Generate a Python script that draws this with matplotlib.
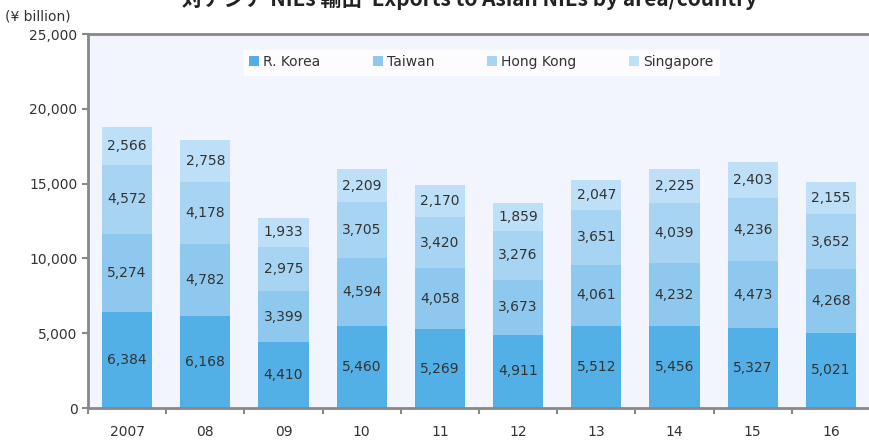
import numpy as np
import matplotlib
matplotlib.use("Agg")
import matplotlib.pyplot as plt
from matplotlib.ticker import FuncFormatter

plt.rcParams['font.family'] = ['DejaVu Sans', 'Noto Sans CJK JP']

years = ["2007", "08", "09", "10", "11", "12", "13", "14", "15", "16"]
korea = [6384, 6168, 4410, 5460, 5269, 4911, 5512, 5456, 5327, 5021]
taiwan = [5274, 4782, 3399, 4594, 4058, 3673, 4061, 4232, 4473, 4268]
hongkong = [4572, 4178, 2975, 3705, 3420, 3276, 3651, 4039, 4236, 3652]
singapore = [2566, 2758, 1933, 2209, 2170, 1859, 2047, 2225, 2403, 2155]

series = [("R. Korea", korea, "#52b0e6"),
          ("Taiwan", taiwan, "#8ec8ef"),
          ("Hong Kong", hongkong, "#a7d4f3"),
          ("Singapore", singapore, "#bddff7")]

fig = plt.figure(figsize=(8.7, 4.44), dpi=100)
ax = fig.add_axes([88 / 870, 1 - 408 / 444, 782 / 870, 374 / 444])
ax.set_facecolor("#f2f5fd")

x = np.arange(len(years))
bottom = np.zeros(len(years))
for name, vals, col in series:
    vals = np.array(vals)
    ax.bar(x, vals, width=0.64, bottom=bottom, color=col, label=name, zorder=2)
    for xi, b, v in zip(x, bottom, vals):
        ax.text(xi, b + v / 2, f"{v:,}", ha="center", va="center",
                fontsize=10, color="#333333", zorder=3)
    bottom += vals

ax.set_xlim(-0.5, len(years) - 0.5)
ax.set_ylim(0, 25000)
ax.set_yticks(range(0, 25001, 5000))
ax.yaxis.set_major_formatter(FuncFormatter(lambda v, p: f"{int(v):,}"))
ax.set_xticks(x)
ax.set_xticklabels(years)
ax.set_xticks(np.arange(-0.5, len(years), 1), minor=True)
ax.tick_params(axis="x", which="major", length=0, pad=12, labelsize=10, colors="#333333")
ax.tick_params(axis="x", which="minor", length=4, color="#888888", width=1.5)
ax.tick_params(axis="y", length=4, color="#888888", width=1.5, labelsize=10, labelcolor="#333333")

for s in ["left", "bottom", "top"]:
    ax.spines[s].set_color("#888888")
    ax.spines[s].set_linewidth(2)
ax.spines["right"].set_visible(False)

leg = ax.legend(loc="upper center", bbox_to_anchor=(0.503, 0.977), ncol=4,
                frameon=True, fancybox=False, fontsize=10, handlelength=0.7,
                handleheight=0.7, handletextpad=0.3, columnspacing=3.8,
                borderpad=0.4)
leg.get_frame().set_facecolor("white")
leg.get_frame().set_edgecolor("white")
for t in leg.get_texts():
    t.set_color("#333333")

fig.text(5 / 870, 1 - 16 / 444, "(¥ billion)", fontsize=10, color="#333333", va="center")
fig.text(470 / 870, 1 - 6 / 444, "対アジア NIEs 輸出  Exports to Asian NIEs by area/country",
         fontsize=15, fontweight="bold", ha="center", va="baseline", color="#222222",
         family=["Noto Sans CJK JP", "DejaVu Sans"])

fig.savefig("out.png", dpi=100)
